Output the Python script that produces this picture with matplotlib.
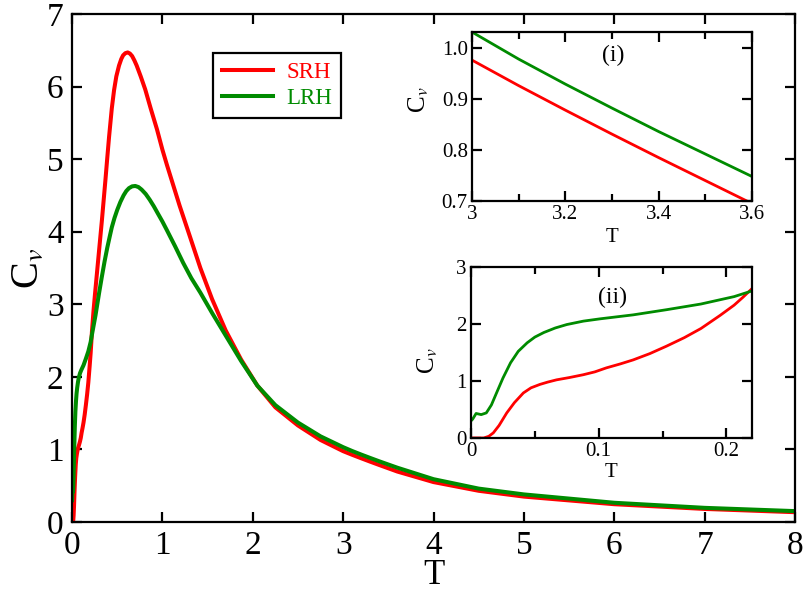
import matplotlib
matplotlib.use("Agg")
import matplotlib.pyplot as plt
from matplotlib.ticker import MultipleLocator

plt.rcParams['font.family'] = ['Liberation Serif', 'DejaVu Serif']
plt.rcParams['mathtext.fontset'] = 'stix'

# SRH curve
T_srh = [0.0, 0.005, 0.01, 0.014, 0.0175, 0.022, 0.028, 0.034, 0.041, 0.047,
         0.054, 0.060, 0.067, 0.077, 0.088, 0.097, 0.106, 0.117, 0.127, 0.14,
         0.153, 0.167, 0.18, 0.195, 0.206, 0.213, 0.22, 0.237, 0.254, 0.29,
         0.33, 0.37, 0.39, 0.41, 0.44, 0.465, 0.49, 0.52, 0.545, 0.565,
         0.59, 0.616, 0.64, 0.665, 0.69, 0.715, 0.76, 0.81, 0.87, 0.94,
         1.0, 1.05, 1.12, 1.19, 1.30, 1.42, 1.55, 1.70, 1.87, 2.05,
         2.25, 2.5, 2.75, 3.0, 3.1, 3.2, 3.3, 3.4, 3.5, 3.6,
         4.0, 4.5, 5.0, 6.0, 7.0, 8.0]
Cv_srh = [0.0, 0.0, 0.0, 0.03, 0.09, 0.22, 0.44, 0.62, 0.79, 0.88,
          0.94, 0.98, 1.02, 1.06, 1.11, 1.16, 1.23, 1.30, 1.37, 1.48,
          1.61, 1.76, 1.92, 2.15, 2.33, 2.47, 2.62, 2.90, 3.14, 3.62,
          4.15, 4.72, 5.02, 5.31, 5.70, 5.95, 6.14, 6.29, 6.38, 6.43,
          6.46, 6.47, 6.455, 6.42, 6.36, 6.29, 6.14, 5.96, 5.70, 5.41,
          5.13, 4.92, 4.64, 4.36, 3.95, 3.50, 3.07, 2.64, 2.24, 1.88,
          1.58, 1.33, 1.13, 0.976, 0.926, 0.878, 0.831, 0.785, 0.740, 0.695,
          0.55, 0.43, 0.35, 0.245, 0.18, 0.135]

# LRH curve
T_lrh = [0.0, 0.0013, 0.004, 0.008, 0.012, 0.016, 0.02, 0.025, 0.031, 0.037,
         0.044, 0.05, 0.057, 0.066, 0.075, 0.088, 0.101, 0.127, 0.153, 0.18,
         0.206, 0.22, 0.26, 0.30, 0.33, 0.36, 0.39, 0.42, 0.44, 0.47,
         0.50, 0.535, 0.57, 0.60, 0.63, 0.665, 0.70, 0.735, 0.77, 0.815,
         0.86, 0.905, 0.95, 1.0, 1.05, 1.14, 1.23, 1.32, 1.42, 1.55,
         1.70, 1.87, 2.05, 2.25, 2.5, 2.75, 3.0, 3.1, 3.2, 3.3,
         3.4, 3.5, 3.6, 4.0, 4.5, 5.0, 6.0, 7.0, 8.0]
Cv_lrh = [0.30, 0.33, 0.43, 0.41, 0.44, 0.58, 0.79, 1.05, 1.32, 1.52,
          1.67, 1.77, 1.85, 1.93, 1.99, 2.05, 2.09, 2.16, 2.25, 2.35,
          2.48, 2.58, 2.85, 3.16, 3.38, 3.59, 3.78, 3.95, 4.06, 4.19,
          4.30, 4.41, 4.50, 4.56, 4.60, 4.625, 4.63, 4.615, 4.58, 4.52,
          4.44, 4.35, 4.25, 4.14, 4.02, 3.80, 3.57, 3.36, 3.16, 2.88,
          2.57, 2.22, 1.88, 1.61, 1.37, 1.18, 1.031, 0.978, 0.929, 0.882,
          0.836, 0.792, 0.748, 0.59, 0.46, 0.38, 0.265, 0.195, 0.15]

RED = '#ff0000'
GREEN = '#008b00'


def style_axes(ax, labelsize, major_len, minor_len, pad):
    for sp in ax.spines.values():
        sp.set_linewidth(1.6)
    ax.tick_params(which='both', direction='in', top=True, right=True,
                   width=1.6, labelsize=labelsize, pad=pad)
    ax.tick_params(which='major', length=major_len)
    ax.tick_params(which='minor', length=minor_len)


fig = plt.figure(figsize=(8.04, 5.95), dpi=100)

# main panel
ax = fig.add_axes([0.0896, 0.1227, 0.8992, 0.8538])
ax.plot(T_srh, Cv_srh, color=RED, lw=2.9, label='SRH')
ax.plot(T_lrh, Cv_lrh, color=GREEN, lw=2.9, label='LRH')
ax.set_xlim(0, 8)
ax.set_ylim(0, 7)
ax.xaxis.set_major_locator(MultipleLocator(1))
ax.yaxis.set_major_locator(MultipleLocator(1))
style_axes(ax, 24, 7.5, 4, 6)
ax.set_xlabel('T', fontsize=25, labelpad=-1)
ax.set_ylabel(r'C$_v$', fontsize=29)
ax.yaxis.set_label_coords(-0.035, 0.5)

leg = ax.legend(loc='upper left', bbox_to_anchor=(0.195, 0.923), borderaxespad=0,
                fontsize=16.5, handlelength=2.2, handletextpad=0.6,
                labelspacing=0.2, borderpad=0.4, fancybox=False,
                edgecolor='black', framealpha=1, labelcolor='linecolor')
leg.get_frame().set_linewidth(1.6)

# inset (i)
ax1 = fig.add_axes([0.587, 0.6622, 0.3483, 0.284])
ax1.plot(T_srh, Cv_srh, color=RED, lw=2.0)
ax1.plot(T_lrh, Cv_lrh, color=GREEN, lw=2.0)
ax1.set_xlim(3, 3.6)
ax1.set_ylim(0.7, 1.031)
ax1.xaxis.set_minor_locator(MultipleLocator(0.1))
ax1.set_xticks([3, 3.2, 3.4, 3.6])
ax1.set_xticklabels(['3', '3.2', '3.4', '3.6'])
ax1.set_yticks([0.7, 0.8, 0.9, 1.0])
ax1.set_yticklabels(['0.7', '0.8', '0.9', '1.0'])
style_axes(ax1, 15, 7, 4.8, 3)
ax1.set_xlabel('T', fontsize=15, labelpad=3)
ax1.set_ylabel(r'C$_v$', fontsize=18)
ax1.yaxis.set_label_coords(-0.148, 0.6)
ax1.text(3.302, 0.986, '(i)', fontsize=17, ha='center', va='center')

# inset (ii)
ax2 = fig.add_axes([0.5858, 0.2639, 0.3495, 0.2874])
ax2.plot(T_srh, Cv_srh, color=RED, lw=2.0)
ax2.plot(T_lrh, Cv_lrh, color=GREEN, lw=2.0)
ax2.set_xlim(0, 0.22)
ax2.set_ylim(0, 3)
ax2.xaxis.set_minor_locator(MultipleLocator(0.05))
ax2.yaxis.set_major_locator(MultipleLocator(1))
ax2.set_xticks([0, 0.1, 0.2])
ax2.set_xticklabels(['0', '0.1', '0.2'])
style_axes(ax2, 15, 7, 4.8, 3)
ax2.set_xlabel('T', fontsize=15, labelpad=1)
ax2.set_ylabel(r'C$_v$', fontsize=18)
ax2.yaxis.set_label_coords(-0.11, 0.45)
ax2.text(0.111, 2.46, '(ii)', fontsize=17, ha='center', va='center')

fig.savefig('out.png', dpi=100)
